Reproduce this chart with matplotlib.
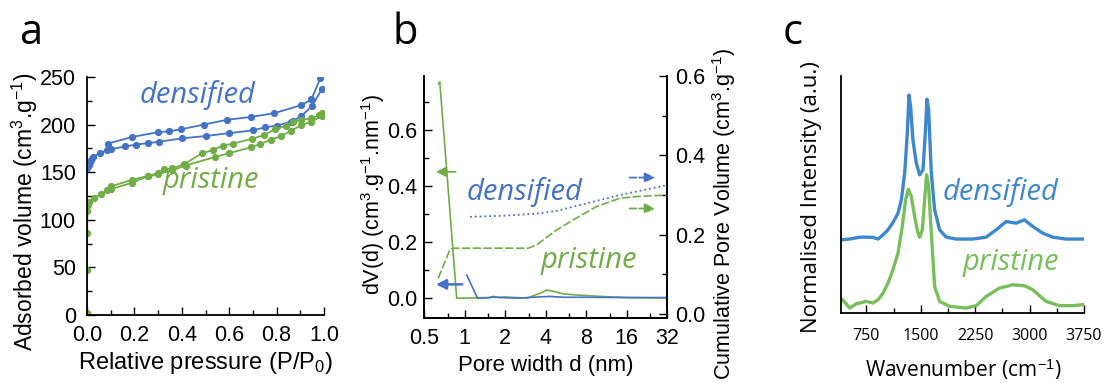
import matplotlib
matplotlib.use('Agg')
import matplotlib.pyplot as plt
from matplotlib.ticker import MultipleLocator, FixedLocator, NullFormatter

plt.rcParams['font.family'] = ['Liberation Sans', 'DejaVu Sans']
plt.rcParams['mathtext.fontset'] = 'custom'
plt.rcParams['mathtext.rm'] = 'Liberation Sans'
plt.rcParams['mathtext.it'] = 'Liberation Sans:italic'

BLUE = '#4472c4'
GREEN = '#70ad47'
BLUE_C = '#3d87cc'
GREEN_C = '#78bf5c'

# --- a: isotherms
dens_ads_p = [0.001, 0.004, 0.007, 0.011, 0.018, 0.025, 0.053, 0.085, 0.10, 0.16, 0.207, 0.256,
              0.305, 0.40, 0.50, 0.60, 0.70, 0.75, 0.80, 0.86, 0.87, 0.905, 0.951, 0.99]
dens_ads_v = [154, 156, 158, 161, 163, 166, 170, 173, 174, 177, 179, 180.5,
              182, 185.5, 188, 191, 194, 197, 199, 203, 204, 209, 220, 237]
dens_des_p = [0.985, 0.947, 0.905, 0.79, 0.69, 0.59, 0.493, 0.395, 0.346, 0.30, 0.19, 0.088]
dens_des_v = [249, 226.5, 220.5, 212, 208, 205, 200, 195, 193, 192, 187, 180]
pris_ads_p = [0.0, 0.0, 0.001, 0.002, 0.004, 0.01, 0.03, 0.057, 0.085, 0.10, 0.19, 0.256, 0.30,
              0.36, 0.416, 0.54, 0.60, 0.69, 0.73, 0.776, 0.82, 0.86, 0.905, 0.947, 0.99]
pris_ads_v = [2, 47, 86, 109, 116, 119, 123, 127, 131, 132, 139, 145.5, 148,
              152, 157, 166, 170, 176, 179.5, 184, 188, 193.5, 199.5, 203, 209]
pris_des_p = [0.99, 0.98, 0.947, 0.905, 0.87, 0.84, 0.793, 0.747, 0.695, 0.616, 0.574, 0.53,
              0.486, 0.41, 0.36, 0.325, 0.30, 0.256, 0.19, 0.10]
pris_des_v = [212, 210, 206.5, 205, 203, 199, 195, 189, 185, 180, 178, 173,
              170, 158.5, 154, 153, 149, 146, 142, 135]

# --- b: pore size distribution
pris_dv_d = [0.64, 0.655, 0.875, 1.0, 1.5, 2.0, 2.92, 3.4, 3.85, 4.07, 4.6, 5.3, 6.8, 11.5, 16, 32]
pris_dv = [0.765, 0.772, 0.0, 0.0, 0.002, 0.004, 0.0, 0.012, 0.022, 0.029, 0.024, 0.016, 0.011, 0.005, 0.002, 0.0]
dens_dv_d = [1.04, 1.25, 1.5, 1.64, 1.8, 2.5, 3.5, 4.3, 5.5, 8, 16, 32]
dens_dv = [0.082, 0.0, 0.001, 0.006, 0.002, 0.0, 0.004, 0.006, 0.003, 0.003, 0.002, 0.002]
pris_cum_d = [0.638, 0.78, 0.825, 2.98, 3.43, 3.85, 4.85, 6.4, 9.6, 14.3, 19.0, 32]
pris_cum = [0.09, 0.163, 0.166, 0.166, 0.174, 0.187, 0.212, 0.237, 0.271, 0.292, 0.296, 0.300]
dens_cum_d = [1.1, 2.0, 3.4, 4.85, 8.1, 14.3, 32]
dens_cum = [0.245, 0.248, 0.253, 0.26, 0.279, 0.300, 0.325]

# --- c: Raman
wn_dens = [420, 521, 658, 750, 842, 911, 980, 1048, 1117, 1186, 1232, 1278, 1314, 1337, 1360,
           1392, 1438, 1484, 1530, 1562, 1585, 1608, 1645, 1691, 1759, 1851, 1989, 2218, 2401,
           2539, 2677, 2814, 2929, 3044, 3181, 3319, 3502, 3732]
int_dens = [0.309, 0.312, 0.320, 0.320, 0.319, 0.312, 0.330, 0.351, 0.382, 0.421, 0.478, 0.590,
            0.758, 0.920, 0.871, 0.730, 0.632, 0.583, 0.604, 0.758, 0.902, 0.857, 0.590, 0.435,
            0.351, 0.320, 0.312, 0.312, 0.320, 0.351, 0.386, 0.379, 0.393, 0.365, 0.337, 0.320,
            0.312, 0.312]
wn_pris = [420, 521, 612, 750, 842, 911, 980, 1048, 1117, 1186, 1245, 1291, 1328, 1369, 1415,
           1461, 1484, 1521, 1553, 1580, 1608, 1645, 1691, 1759, 1897, 2126, 2264, 2401, 2585,
           2768, 2929, 3044, 3227, 3410, 3594, 3732]
int_pris = [0.056, 0.021, 0.039, 0.049, 0.042, 0.056, 0.084, 0.126, 0.183, 0.253, 0.365, 0.478,
            0.522, 0.492, 0.407, 0.337, 0.320, 0.351, 0.478, 0.583, 0.534, 0.337, 0.112, 0.049,
            0.028, 0.021, 0.031, 0.070, 0.105, 0.119, 0.115, 0.098, 0.049, 0.031, 0.031, 0.035]

W, H = 1108, 383
fig = plt.figure(figsize=(W / 100, H / 100), dpi=100)


def box(l, t, r, b):
    return [l / W, 1 - b / H, (r - l) / W, (b - t) / H]


def ftext(x, y, s, **kw):
    fig.text(x / W, 1 - y / H, s, **kw)


def style(ax, size=15.5, xpad=7, ypad=5):
    ax.tick_params(direction='in', which='both', labelsize=size, width=1)
    ax.tick_params(axis='x', which='both', pad=xpad)
    ax.tick_params(axis='y', which='both', pad=ypad)
    ax.tick_params(which='major', length=6)
    ax.tick_params(which='minor', length=3.5)
    for s in ax.spines.values():
        s.set_linewidth(1.3)


ANN = 21

# ----- panel a
ax = fig.add_axes(box(87, 77, 324, 315))
ax.plot(dens_ads_p, dens_ads_v, '-o', color=BLUE, ms=4.2, lw=1.3)
ax.plot(dens_des_p, dens_des_v, '-o', color=BLUE, ms=4.2, lw=1.3)
ax.plot(pris_ads_p, pris_ads_v, '-o', color=GREEN, ms=4.2, lw=1.3)
ax.plot(pris_des_p, pris_des_v, '-o', color=GREEN, ms=4.2, lw=1.3)
ax.set_xlim(0, 1.0)
ax.set_ylim(0, 250)
ax.xaxis.set_major_locator(MultipleLocator(0.2))
ax.xaxis.set_minor_locator(MultipleLocator(0.1))
ax.yaxis.set_major_locator(MultipleLocator(50))
ax.yaxis.set_minor_locator(MultipleLocator(25))
ax.xaxis.set_major_formatter(plt.FormatStrFormatter('%.1f'))
ax.spines['top'].set_visible(False)
ax.spines['right'].set_visible(False)
style(ax, ypad=8)
ax.text(0.224, 222.7, 'densified', color=BLUE, family='Open Sans', style='italic', fontsize=ANN)
ax.text(0.321, 133.4, 'pristine', color=GREEN, family='Open Sans', style='italic', fontsize=ANN)
ftext(25, 212, 'Adsorbed volume (cm$^3$.g$^{-1}$)', rotation=90, ha='center', va='center', fontsize=16.5)
ftext(205, 363, 'Relative pressure (P/P$_0$)', ha='center', va='center', fontsize=17)

# ----- panel b
bx = fig.add_axes(box(424, 76, 667, 318))
bx.set_xscale('log', base=2)
bx.plot(pris_dv_d, pris_dv, '-', color=GREEN, lw=1.2)
bx.plot(dens_dv_d, dens_dv, '-', color=BLUE, lw=1.2)
bx.set_xlim(0.5, 32)
bx.set_ylim(-0.071, 0.793)
bx.xaxis.set_major_locator(FixedLocator([0.5, 1, 2, 4, 8, 16, 32]))
bx.xaxis.set_minor_locator(FixedLocator([0.75, 1.5, 3, 6, 12, 24]))
bx.xaxis.set_minor_formatter(NullFormatter())
bx.set_xticklabels(['0.5', '1', '2', '4', '8', '16', '32'])
bx.yaxis.set_major_locator(MultipleLocator(0.2))
bx.yaxis.set_minor_locator(MultipleLocator(0.1))
bx.yaxis.set_major_formatter(plt.FormatStrFormatter('%.1f'))
bx.spines['top'].set_visible(False)
style(bx)
bx.annotate('', xy=(0.585, 0.451), xytext=(0.90, 0.451),
            arrowprops=dict(arrowstyle='-|>', color=GREEN, lw=1.3, mutation_scale=15))
bx.annotate('', xy=(0.585, 0.049), xytext=(1.01, 0.049),
            arrowprops=dict(arrowstyle='-|>', color=BLUE, lw=1.8, mutation_scale=15))
bx.text(1.04, 0.35, 'densified', color=BLUE, family='Open Sans', style='italic', fontsize=ANN)
bx.text(3.65, 0.107, 'pristine', color=GREEN, family='Open Sans', style='italic', fontsize=ANN)

bx2 = bx.twinx()
bx2.plot(pris_cum_d, pris_cum, '--', color=GREEN, lw=1.2, dashes=(5, 1.5))
bx2.plot(dens_cum_d, dens_cum, ':', color=BLUE, lw=1.3)
bx2.set_ylim(-0.01, 0.6)
bx2.yaxis.set_major_locator(MultipleLocator(0.2))
bx2.yaxis.set_minor_locator(MultipleLocator(0.1))
bx2.yaxis.set_major_formatter(plt.FormatStrFormatter('%.1f'))
bx2.spines['top'].set_visible(False)
style(bx2, ypad=6)
bx2.annotate('', xy=(27.3, 0.344), xytext=(16.1, 0.344),
             arrowprops=dict(arrowstyle='-|>', color=BLUE, lw=1.3, linestyle='--', mutation_scale=15))
bx2.annotate('', xy=(27.3, 0.266), xytext=(16.1, 0.266),
             arrowprops=dict(arrowstyle='-|>', color=GREEN, lw=1.3, linestyle='--', mutation_scale=15))
ftext(373, 194, 'dV(d) (cm$^3$.g$^{-1}$.nm$^{-1}$)', rotation=90, ha='center', va='center', fontsize=15.5)
ftext(724, 214, 'Cumulative Pore Volume (cm$^3$.g$^{-1}$)', rotation=90, ha='center', va='center', fontsize=15.5)
ftext(546, 365, 'Pore width d (nm)', ha='center', va='center', fontsize=16)

# ----- panel c
cx = fig.add_axes(box(841, 76, 1084, 313))
cx.plot(wn_dens, int_dens, '-', color=BLUE_C, lw=2.4)
cx.plot(wn_pris, int_pris, '-', color=GREEN_C, lw=2.4)
cx.set_xlim(400, 3750)
cx.set_ylim(0, 1)
cx.xaxis.set_major_locator(MultipleLocator(750))
cx.xaxis.set_minor_locator(MultipleLocator(375))
cx.set_yticks([])
cx.spines['top'].set_visible(False)
cx.spines['right'].set_visible(False)
style(cx, size=11.5, xpad=11)
for lab in cx.get_xticklabels():
    lab.set_family('Open Sans')
cx.text(1807, 0.477, 'densified', color=BLUE_C, family='Open Sans', style='italic', fontsize=ANN)
cx.text(2082, 0.181, 'pristine', color=GREEN_C, family='Open Sans', style='italic', fontsize=ANN)
ftext(811, 197, 'Normalised Intensity (a.u.)', rotation=90, ha='center', va='center', fontsize=16,
      family=['Open Sans', 'DejaVu Sans'])
ftext(963, 370, 'Wavenumber (cm$^{-1}$)', ha='center', va='center', fontsize=15,
      family=['Open Sans', 'DejaVu Sans'])

# panel letters
for x, letter in [(19, 'a'), (393, 'b'), (783, 'c')]:
    ftext(x, 44, letter, fontsize=30, family='Open Sans', ha='left', va='baseline')

fig.savefig('out.png', dpi=100)
